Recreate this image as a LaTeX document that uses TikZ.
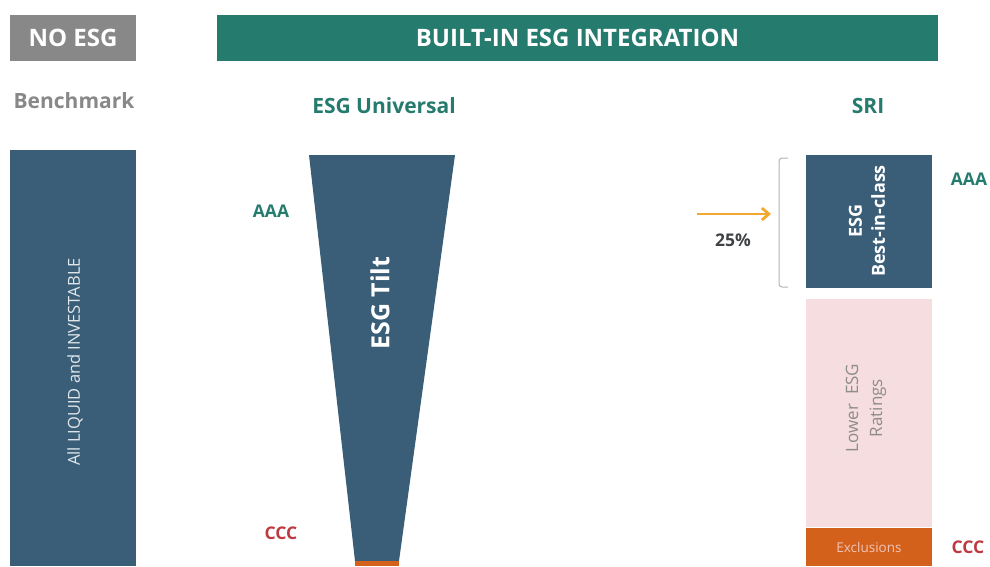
\documentclass[tikz,border=0pt]{standalone}
\usepackage{fontspec}
\setmainfont{Open Sans}
\usetikzlibrary{arrows.meta,positioning}
\definecolor{esgteal}{RGB}{37,123,110}
\definecolor{esgblue}{RGB}{58,94,120}
\definecolor{esggray}{RGB}{136,136,136}
\definecolor{esgorange}{RGB}{212,97,27}
\definecolor{esgpink}{RGB}{246,221,223}
\definecolor{esgred}{RGB}{190,58,64}
\definecolor{esgarrow}{RGB}{245,168,48}

\begin{document}
\begin{tikzpicture}[x=1pt,y=-1pt,
  header/.style={fill=#1,text=white,font=\fontsize{24}{28}\selectfont\bfseries,minimum height=46pt,inner sep=0pt},
  title/.style={text=#1,font=\fontsize{21}{24}\selectfont\bfseries,inner sep=0pt},
  bar/.style={fill=#1,minimum width=126pt,inner sep=0pt},
  rating/.style={text=#1,font=\fontsize{17.5}{20}\selectfont\bfseries,inner sep=0pt},
  vtext/.style={rotate=90,align=center,inner sep=0pt},
  arr/.style={-{Straight Barb[length=7pt,width=12pt]},line width=2.8pt,esgarrow}
]
  \useasboundingbox (0,0) rectangle (990,566);
  % headers
  \node[header=esggray,minimum width=126pt] (noesg) at (73,38) {NO ESG};
  \node[header=esgteal,minimum width=721pt] (builtin) at (577.5,38) {BUILT-IN ESG INTEGRATION};
  \node[title=esggray] (bench) at (74,101) {Benchmark};
  \node[title=esgteal] (univ) at (384,106) {ESG Universal};
  \node[title=esgteal] (sri) at (868,106) {SRI};
  % benchmark
  \node[bar=esgblue,minimum height=416pt] (all) at (73,358) {};
  \node[vtext,text=white!85!esgblue,font=\fontsize{16.5}{19}\selectfont] at (75,362) {All LIQUID and INVESTABLE};
  % universe funnel
  \coordinate (ftl) at (309,155);
  \coordinate (ftr) at (455,155);
  \coordinate (fbl) at (355,561);
  \coordinate (fbr) at (399,561);
  \fill[esgblue] (ftl) -- (ftr) -- (fbr) -- (fbl) -- cycle;
  \fill[esgorange] (fbl) rectangle (399,566);
  \node[vtext,text=white,font=\fontsize{25}{28}\selectfont\bfseries] (tilt) at (380,303) {ESG Tilt};
  \node[rating=esgteal] (aaa1) at (271,211) {AAA};
  \node[rating=esgred] (ccc1) at (281,533) {CCC};
  % SRI
  \node[bar=esgblue,minimum height=133pt] (best) at (869,221.5) {};
  \node[vtext,text=white,font=\fontsize{18}{23}\selectfont\bfseries] at (867,221) {ESG\\Best-in-class};
  \node[bar=esgpink,minimum height=228pt] (lower) at (869,413) {};
  \node[vtext,text=esggray!95!esgpink,font=\fontsize{17}{24}\selectfont] at (866,408) {Lower\ \ ESG\\Ratings};
  \node[bar=esgorange,minimum height=38pt,text=esgpink!80!esgorange,font=\fontsize{13.5}{15}\selectfont] (excl) at (869,547) {Exclusions};
  \node[rating=esgteal] (aaa2) at (969,179) {AAA};
  \node[rating=esgred] (ccc2) at (968,547) {CCC};
  % bracket and arrow
  \coordinate (brt) at (788,158);
  \coordinate (brb) at (788,287);
  \draw[gray!60,line width=1pt,rounded corners=3pt] (brt) -| (779,222) |- (brb);
  \coordinate (arrs) at (697,214);
  \coordinate (arre) at (771,214);
  \draw[arr] (arrs) -- (arre);
  \node[rating=darkgray!90!esgblue] (pct) at (733,240) {25\%};
\end{tikzpicture}
\end{document}
